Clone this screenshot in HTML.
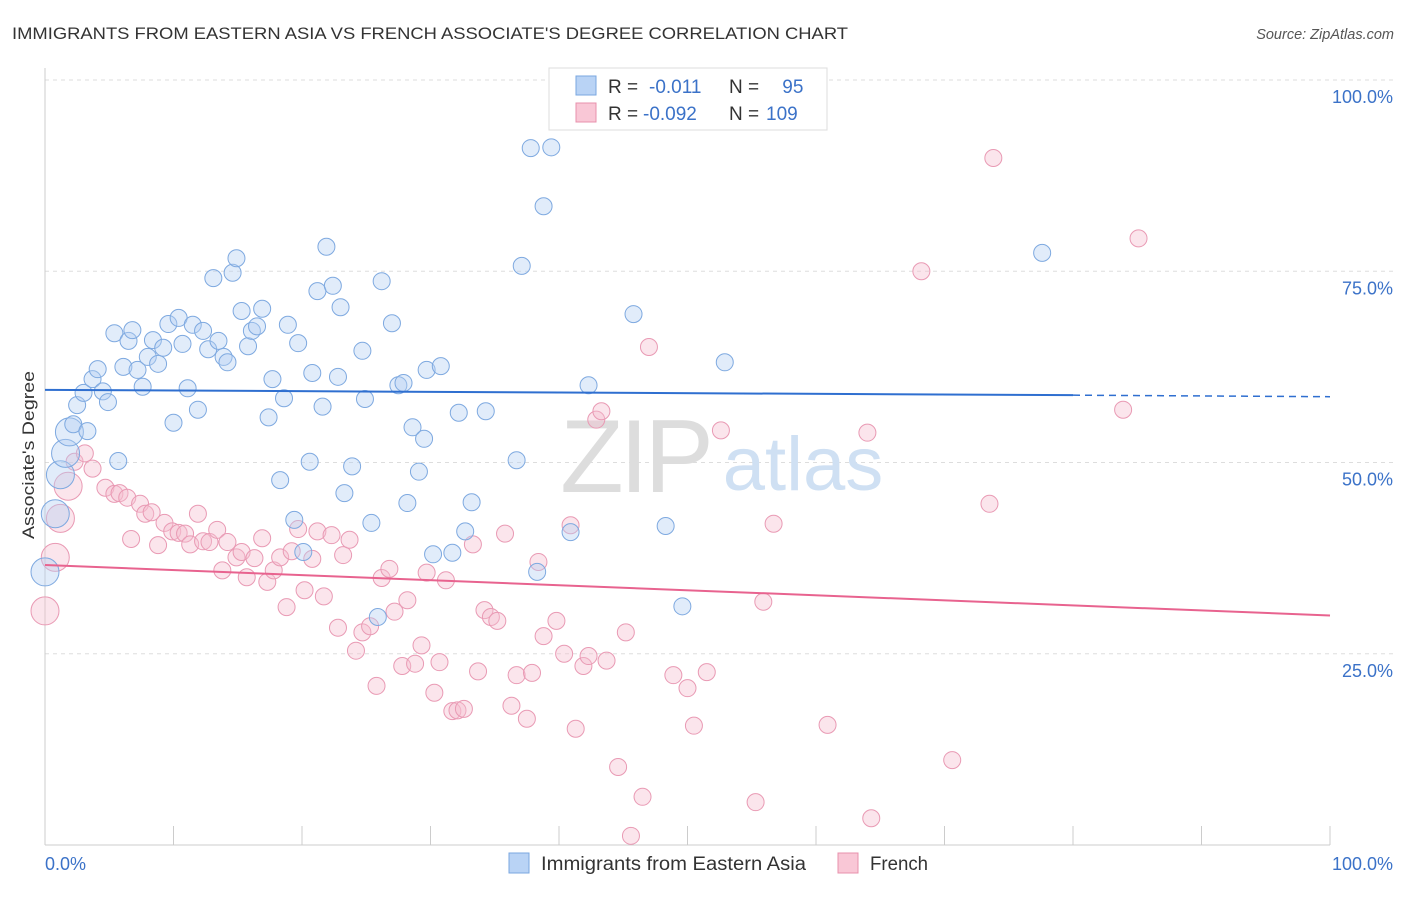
<!DOCTYPE html>
<html><head><meta charset="utf-8"><style>
body{margin:0;background:#fff;font-family:"Liberation Sans",sans-serif;}
svg text{font-family:"Liberation Sans",sans-serif;}
</style></head><body>
<svg id="chart" width="1406" height="892" viewBox="0 0 1406 892">
<text x="12" y="39" font-size="17" fill="#333" textLength="836" lengthAdjust="spacingAndGlyphs">IMMIGRANTS FROM EASTERN ASIA VS FRENCH ASSOCIATE'S DEGREE CORRELATION CHART</text>
<text x="1394" y="39" font-size="14.5" fill="#555" font-style="italic" text-anchor="end">Source: ZipAtlas.com</text>
<g id="grid"></g>
<g>
<text x="635" y="492" font-size="104" font-family="Liberation Serif" fill="#ddd" text-anchor="middle" letter-spacing="-4">ZIP</text>
<text x="803" y="490" font-size="76" fill="#cfe0f3" text-anchor="middle">atlas</text>
</g>
<g id="axes"></g>
<g id="pts"></g>
<g id="lines"></g>
<text x="34" y="455" font-size="17" fill="#333" text-anchor="middle" textLength="168" lengthAdjust="spacingAndGlyphs" transform="rotate(-90 34 455)">Associate's Degree</text>
<g>
<rect x="549" y="68" width="278" height="62" fill="#fff" stroke="#ddd"/>
<rect x="576" y="76" width="20" height="19" fill="#b9d3f5" stroke="#7aa7e0"/>
<rect x="576" y="103" width="20" height="19" fill="#f9c7d6" stroke="#e890ac"/>
<text x="608" y="93" font-size="19" fill="#333">R = <tspan x="649" fill="#3b72c8">-0.011</tspan><tspan x="729">N = </tspan><tspan x="777" fill="#3b72c8">&#160;95</tspan></text>
<text x="608" y="120" font-size="19" fill="#333">R = <tspan x="643" fill="#3b72c8">-0.092</tspan><tspan x="729">N = </tspan><tspan x="766" fill="#3b72c8">109</tspan></text>
</g>
<g>
<rect x="509" y="853" width="20" height="20" fill="#b9d3f5" stroke="#7aa7e0"/>
<text x="541" y="870" font-size="19" fill="#333" textLength="265" lengthAdjust="spacingAndGlyphs">Immigrants from Eastern Asia</text>
<rect x="838" y="853" width="20" height="20" fill="#f9c7d6" stroke="#e890ac"/>
<text x="870" y="870" font-size="19" fill="#333" textLength="58" lengthAdjust="spacingAndGlyphs">French</text>
</g>
</svg>
<script>
const blueX=[0,0.8,1.2,1.6,1.9,2.2,2.5,3.0,3.3,3.7,4.1,4.5,4.9,5.4,5.7,6.1,6.5,6.8,7.2,7.6,8.0,8.4,8.8,9.2,9.6,10.0,10.4,10.7,11.1,11.5,11.9,12.3,12.7,13.1,13.5,13.9,14.2,14.6,14.9,15.3,15.8,16.1,16.5,16.9,17.4,17.7,18.3,18.6,18.9,19.4,19.7,20.1,20.6,20.8,21.2,21.6,21.9,22.4,22.8,23.0,23.3,23.9,24.7,24.9,25.4,25.9,26.2,27.0,27.5,27.9,28.2,28.6,29.1,29.5,29.7,30.2,30.8,31.7,32.2,32.7,33.2,34.3,36.7,37.1,37.8,38.3,38.8,39.4,40.9,42.3,45.8,48.3,49.6,52.9,77.6];
const blueY=[35.7,43.3,48.4,51.2,54.0,55.0,57.5,59.1,54.1,60.9,62.2,59.3,57.9,66.9,50.2,62.5,65.9,67.3,62.1,59.9,63.8,66.0,62.9,65.0,68.1,55.2,68.9,65.5,59.7,68.0,56.9,67.2,64.8,74.1,65.9,63.8,63.1,74.8,76.7,69.8,65.2,67.2,67.8,70.1,55.9,60.9,47.7,58.4,68.0,42.5,65.6,38.3,50.1,61.7,72.4,57.3,78.2,73.1,61.2,70.3,46.0,49.5,64.6,58.3,42.1,29.8,73.7,68.2,60.1,60.4,44.7,54.6,48.8,53.1,62.1,38.0,62.6,38.2,56.5,41.0,44.8,56.7,50.3,75.7,91.1,35.7,83.5,91.2,40.9,60.1,69.4,41.7,31.2,63.1,77.4];
const blueBig=[0,1,2,3,4];
const pinkX=[0,0.8,1.2,1.8,2.3,3.1,3.7,4.7,5.4,5.8,6.4,6.7,7.4,7.8,8.3,8.8,9.3,9.9,10.4,10.9,11.3,11.9,12.3,12.8,13.4,13.8,14.2,14.9,15.3,15.7,16.3,16.9,17.3,17.8,18.3,18.8,19.2,19.7,20.2,20.8,21.2,21.7,22.3,22.8,23.2,23.7,24.2,24.7,25.3,25.8,26.2,26.8,27.2,27.8,28.2,28.8,29.3,29.7,30.3,30.7,31.2,31.7,32.1,32.6,33.3,33.7,34.2,34.7,35.2,35.8,36.3,36.7,37.5,37.9,38.4,38.8,39.8,40.4,40.9,41.3,41.9,42.3,42.9,43.3,43.7,44.6,45.2,46.5,47.0,45.6,48.9,50.0,50.5,51.5,52.6,55.3,55.9,56.7,60.9,64.0,64.3,68.2,70.6,73.5,73.8,83.9,85.1];
const pinkY=[30.6,37.6,42.7,46.9,50.1,51.2,49.2,46.7,45.9,46.0,45.4,40.0,44.6,43.3,43.5,39.2,42.1,41.0,40.8,40.7,39.3,43.3,39.7,39.6,41.2,35.9,39.6,37.6,38.3,35.0,37.5,40.1,34.4,35.9,37.6,31.1,38.4,41.3,33.3,37.4,41.0,32.5,40.5,28.4,37.9,39.9,25.4,27.8,28.6,20.8,34.9,36.1,30.5,23.4,32.0,23.7,26.1,35.6,19.9,23.9,34.6,17.5,17.6,17.8,39.3,22.7,30.7,29.8,29.3,40.7,18.2,22.2,16.5,22.5,37.0,27.3,29.3,25.0,41.8,15.2,23.4,24.7,55.6,56.7,24.1,10.2,27.8,6.3,65.1,1.2,22.2,20.5,15.6,22.6,54.2,5.6,31.8,42.0,15.7,53.9,3.5,75.0,11.1,44.6,89.8,56.9,79.3];
const pinkBig=[0,1,2,3];
const blueTrend=[59.5,58.8,58.6];
const pinkTrend=[36.6,30.0];
const yTicks=[100,75,50,25];
const X0=45,X1=1330,Y0=845,Y100=80;
const sx=v=>X0+(X1-X0)*v/100, sy=v=>Y0-(Y0-Y100)*v/100;
const NS="http://www.w3.org/2000/svg";
function mk(tag,attrs,parent){const e=document.createElementNS(NS,tag);for(const k in attrs)e.setAttribute(k,attrs[k]);parent.appendChild(e);return e;}
const grid=document.getElementById('grid'),axes=document.getElementById('axes'),pts=document.getElementById('pts'),lines=document.getElementById('lines');
yTicks.forEach(t=>{
 const l=mk('line',{x1:X0,x2:1395,y1:sy(t),y2:sy(t),stroke:'#ddd','stroke-dasharray':'4,4'},grid);
 
 
 const tx=mk('text',{x:1393,y:sy(t)+23,'font-size':18,fill:'#3b72c8','text-anchor':'end'},axes);
 tx.textContent=t.toFixed(1)+'%';
 
 
});
mk('line',{x1:X0,x2:X0,y1:68,y2:Y0,stroke:'#ccc'},axes);
mk('line',{x1:X0,x2:X1,y1:Y0,y2:Y0,stroke:'#ccc'},axes);
for(let i=0;i<=10;i++){mk('line',{x1:sx(i*10),x2:sx(i*10),y1:826,y2:Y0,stroke:'#ccc'},axes);}
let t1=mk('text',{x:45,y:870,'font-size':18,fill:'#3b72c8'},axes);t1.textContent='0.0%';


let t2=mk('text',{x:1393,y:870,'font-size':18,fill:'#3b72c8','text-anchor':'end'},axes);t2.textContent='100.0%';


function drawPts(X,Y,big,fill,stroke,name){
 X.forEach((x,i)=>{const r=big.includes(i)?14:8.5;
  const c=mk('circle',{cx:sx(x),cy:sy(Y[i]),r:r,fill:fill,'fill-opacity':0.4,stroke:stroke,'stroke-width':1},pts);
  
  
 });
}
drawPts(pinkX,pinkY,pinkBig,'#f6bfd0','#e99ab4','french-point');
drawPts(blueX,blueY,blueBig,'#b3cff3','#7ea9e0','eastern-asia-point');
let b1=mk('line',{x1:sx(0),y1:sy(blueTrend[0]),x2:sx(80),y2:sy(blueTrend[1]),stroke:'#2f6fd0','stroke-width':2},lines);


let b2=mk('line',{x1:sx(80),y1:sy(blueTrend[1]),x2:sx(100),y2:sy(blueTrend[2]),stroke:'#2f6fd0','stroke-width':1.5,'stroke-dasharray':'7,5'},lines);


let p1=mk('line',{x1:sx(0),y1:sy(pinkTrend[0]),x2:sx(100),y2:sy(pinkTrend[1]),stroke:'#e8638f','stroke-width':2},lines);


</script>
</body></html>
